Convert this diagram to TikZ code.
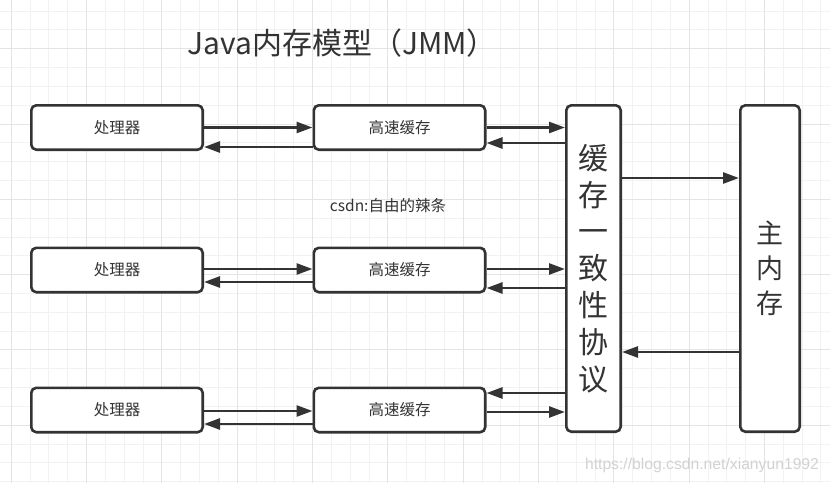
\documentclass[tikz,border=0pt]{standalone}
\usepackage{fontspec}
\setmainfont{Noto Sans CJK SC}
\newfontfamily\urlfont{Liberation Sans}
\usepackage{tikz}
\usetikzlibrary{arrows.meta,calc}
\usepackage{xcolor}
\definecolor{boxline}{HTML}{333333}
\definecolor{gridminor}{HTML}{F2F2F2}
\definecolor{gridmajor}{HTML}{E4E4E4}
\definecolor{wmark}{HTML}{D2D2D2}

\begin{document}
\begin{tikzpicture}[x=1pt,y=-1pt,>={Triangle[length=16pt,width=11pt]},
  box/.style={draw=boxline,line width=2.6pt,rounded corners=5pt,fill=white,text=boxline,inner sep=0pt},
  smallbox/.style={box,minimum width=171.4pt,minimum height=44.4pt,font=\fontsize{15.5}{18}\selectfont},
  tallbox/.style={box,minimum height=326.4pt,align=center},
  link/.style={->,draw=boxline,line width=2.6pt}]
  \fill[white] (0,0) rectangle (830,483);
  \useasboundingbox (0,0) rectangle (830,483);
  \foreach \i in {0,...,43} \draw[gridminor,line width=1pt] ({11.3+18.83*\i},0) -- ++(0,483);
  \foreach \i in {0,...,25} \draw[gridminor,line width=1pt] (0,{11.05+18.83*\i}) -- ++(830,0);
  \foreach \i in {0,...,10} \draw[gridmajor,line width=1pt] ({11.3+75.32*\i},0) -- ++(0,483);
  \foreach \i in {0,...,5} \draw[gridmajor,line width=1pt] (0,{48.7+75.32*\i}) -- ++(830,0);

  \node[text=boxline,font=\fontsize{30}{34}\selectfont] (title) at (342,43) {Java内存模型（JMM）};
  \node[text=boxline,font=\fontsize{15.5}{18}\selectfont] (csdn) at (388,206) {csdn:自由的辣条};

  \node[tallbox,minimum width=54.4pt,font=\fontsize{30}{36.8}\selectfont] (coh) at (593.5,268.5)
    {缓\\存\\一\\致\\性\\协\\议};
  \node[tallbox,minimum width=59.4pt,font=\fontsize{27}{34.8}\selectfont] (mem) at (770,268.5)
    {主\\内\\存};

  \foreach \n/\y/\a/\b/\c/\d in {1/127.5/0/-19.5/0/-15.5,2/270/1/-12/1/-18,3/410/-1/-14/-2/17} {
    \node[smallbox] (p\n) at (117,\y) {处理器};
    \node[smallbox] (c\n) at (399.5,\y) {高速缓存};
    \draw[link] ([yshift=\a pt]p\n.east) -- ([yshift=\a pt]c\n.west);
    \draw[link] ([yshift=\b pt]c\n.west) -- ([yshift=\b pt]p\n.east);
    \draw[link] ([yshift=\c pt]c\n.east) -- ([yshift=\c pt]c\n.east -| coh.west);
    \draw[link] ([yshift=\d pt]c\n.east -| coh.west) -- ([yshift=\d pt]c\n.east);
  }
  \draw[link] ([yshift=90.5pt]coh.east) -- ([yshift=90.5pt]mem.west);
  \draw[link] ([yshift=-83.5pt]mem.west) -- ([yshift=-83.5pt]coh.east);

  \node[text=wmark,font=\urlfont\fontsize{15.7}{18}\selectfont] (url) at (702,465) {https://blog.csdn.net/xianyun1992};
\end{tikzpicture}
\end{document}
